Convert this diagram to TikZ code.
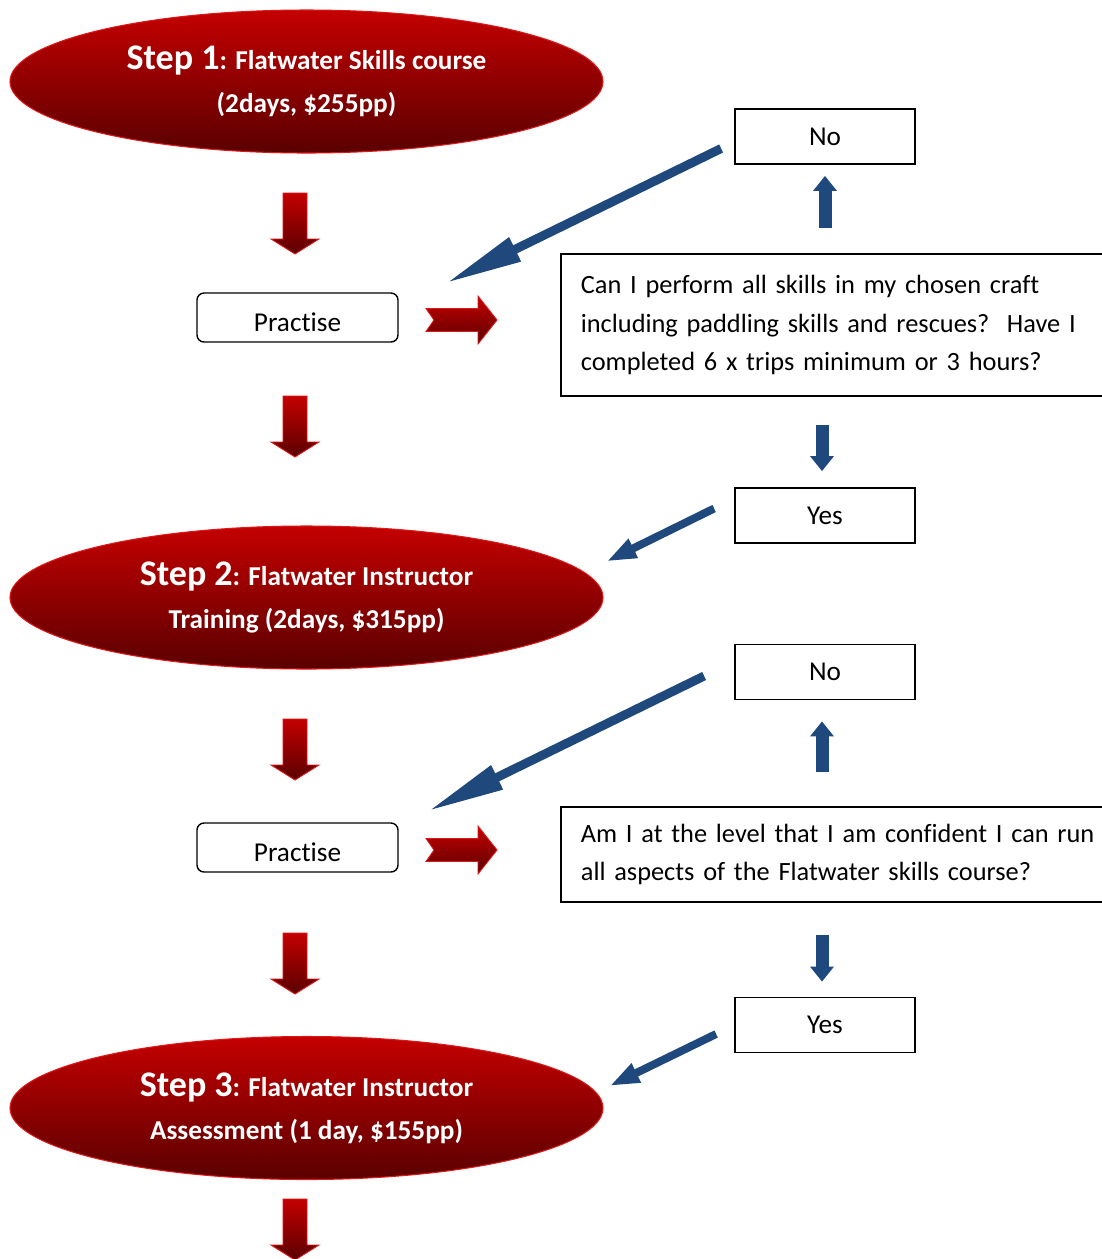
\documentclass[tikz,border=0pt]{standalone}
\usepackage{fontspec}
\setmainfont{Carlito}[Ligatures=NoCommon]
\usetikzlibrary{shapes.geometric, arrows.meta, calc}

\definecolor{stepTop}{RGB}{196,0,0}
\definecolor{stepBottom}{RGB}{90,0,0}
\definecolor{stepEdge}{RGB}{222,24,24}
\definecolor{qBlue}{RGB}{31,73,125}

%% one pixel of the layout
\def\px{0.02cm}

\tikzset{
  stepNode/.style={ellipse, draw=stepEdge, line width=0.6pt, top color=stepTop,
    bottom color=stepBottom, minimum width=593*\px, minimum height=143*\px,
    inner sep=0pt, text=white, align=center,
    font=\bfseries\fontsize{15.5}{24.4}\selectfont},
  pracNode/.style={draw, line width=0.8pt, rounded corners=4pt,
    minimum width=201*\px, minimum height=49*\px, text height=16pt, text depth=0pt,
    font=\fontsize{15.5}{21.8}\selectfont},
  answerNode/.style={draw, line width=1pt, minimum width=180*\px,
    minimum height=55*\px, font=\fontsize{15.5}{21.8}\selectfont},
  questionNode/.style={draw, line width=1pt, anchor=west, align=left,
    text width=10.8cm, inner xsep=0.4cm,
    font=\frenchspacing\fontsize{15}{21.8}\selectfont},
  redBlock/.style={top color=stepTop, bottom color=stepBottom, draw=stepEdge,
    line width=0.5pt},
  redDown/.pic={\path[redBlock] (-12,0) -- (12,0) -- (12,46) -- (24,46) -- (0,61)
    -- (-24,46) -- (-12,46) -- cycle;},
  redRight/.pic={\path[redBlock] (0,-11.5) -- (52,-11.5) -- (52,-24) -- (71,0)
    -- (52,24) -- (52,11.5) -- (0,11.5) -- (8,0) -- cycle;},
  backLong/.style={draw=qBlue, line width=5.1pt, -{Triangle[length=44pt, width=14pt]}},
  backShort/.style={draw=qBlue, line width=4.5pt, -{Triangle[length=17pt, width=11pt]}},
  upDown/.style={draw=qBlue, line width=7.4pt, -{Triangle[length=8.5pt, width=13pt]}}
}

\begin{document}
\begin{tikzpicture}[x=0.02cm, y=-0.02cm]

\useasboundingbox (0,0) rectangle (1102,1259);

%% Steps
\node[stepNode] (step1) at (306.5, 81.5)
  {{\fontsize{20.5}{24.4}\selectfont Step 1}: Flatwater Skills course\\(2days, \$255pp)};
\node[stepNode] (step2) at (306.5, 597.5)
  {{\fontsize{20.5}{24.4}\selectfont Step 2}: Flatwater Instructor\\Training (2days, \$315pp)};
\node[stepNode] (step3) at (306.5, 1108)
  {{\fontsize{20.5}{24.4}\selectfont Step 3}: Flatwater Instructor\\Assessment (1 day, \$155pp)};

%% Practise
\node[pracNode] (prac1) at (297.5, 317.5) {Practise};
\node[pracNode] (prac2) at (297.5, 847.5) {Practise};

%% Questions
\node[questionNode, minimum height=142*\px] (ques1) at (560, 325)
  {Can I perform all skills in my chosen craft\\
   including paddling skills and rescues?\ \ Have I\\
   completed 6 x trips minimum or 3 hours?};
\node[questionNode, minimum height=95*\px] (ques2) at (560, 854.5)
  {Am I at the level that I am confident I can run\\
   all aspects of the Flatwater skills course?};

%% Answers
\node[answerNode] (no1) at (825, 136.5) {No};
\node[answerNode] (yes1) at (825, 515.5) {Yes};
\node[answerNode] (no2) at (825, 672) {No};
\node[answerNode] (yes2) at (825, 1025) {Yes};

%% red block arrows
\pic at (295, 193) {redDown};
\pic at (295, 396) {redDown};
\pic at (295, 719) {redDown};
\pic at (295, 933) {redDown};
\pic at (295, 1199) {redDown};
\pic at (426, 320) {redRight};
\pic at (426, 850) {redRight};

%% blue arrows
\draw[upDown] ($(no1.south)+(0,63)$) -- ($(no1.south)+(0,11)$);
\draw[upDown] ($(ques1.south -| no1)+(-3,28)$) -- ($(yes1.north)+(-3,-16)$);
\draw[upDown] ($(no2.south)+(-3,72)$) -- ($(no2.south)+(-3,21)$);
\draw[upDown] ($(ques2.south -| no2)+(-3,32)$) -- ($(yes2.north)+(-3,-15)$);

% No: back to practise
\draw[backLong] ($(no1.west)+(-13,12)$) -- ($(prac1.north east)+(47,-9)$);
\draw[backLong] ($(no2.west)+(-30,4)$) -- ($(prac2.north east)+(29,-11)$);
% Yes: on to next step
\draw[backShort] ($(yes1.west)+(-20,-7)$) -- ($(step2.east)+(3,-36)$);
\draw[backShort] ($(yes2.west)+(-18,9)$) -- ($(step3.east)+(6,-22)$);

\end{tikzpicture}
\end{document}
